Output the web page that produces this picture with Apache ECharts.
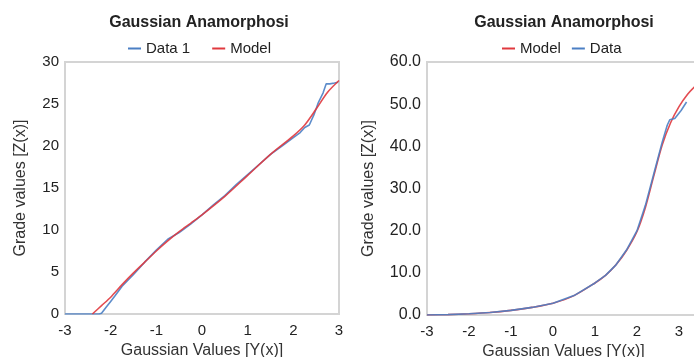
<!DOCTYPE html>
<html>
<head>
<meta charset="utf-8">
<script src="https://cdn.jsdelivr.net/npm/echarts@6/dist/echarts.min.js"></script>
<style>
  html, body { margin: 0; padding: 0; background: #fff; }
  #main { width: 694px; height: 357px; }
</style>
</head>
<body>
<div id="main"></div>
<script>
// 左图: 数据 (Data 1) 与模型 (Model)
var leftDataX = [-3, -2.5, -2.25, -2.2, -2.1, -2.0, -1.9, -1.75, -1.5, -1.25, -1.0, -0.75, -0.5, -0.25, 0, 0.25, 0.5, 0.75, 1.0, 1.25, 1.5, 1.75, 2.0, 2.15, 2.25, 2.35, 2.45, 2.55, 2.65, 2.72, 2.8, 2.9, 2.98];
var leftDataY = [0, 0, 0, 0.1, 0.8, 1.5, 2.2, 3.3, 4.7, 6.2, 7.6, 8.9, 9.7, 10.7, 11.8, 13.0, 14.1, 15.4, 16.6, 17.8, 19.0, 20.0, 21.0, 21.6, 22.2, 22.5, 23.7, 25.2, 26.3, 27.4, 27.4, 27.5, 27.6];
var leftModelX = [-2.4, -2.2, -2.0, -1.75, -1.5, -1.25, -1.0, -0.75, -0.5, -0.25, 0, 0.5, 1.0, 1.5, 2.0, 2.25, 2.5, 2.75, 3.0];
var leftModelY = [0, 1.0, 2.0, 3.5, 4.9, 6.2, 7.5, 8.7, 9.8, 10.8, 11.8, 14.0, 16.5, 19.0, 21.2, 22.5, 24.4, 26.4, 27.8];

// 右图
var rightDataX = [-3, -2.5, -2.0, -1.5, -1.0, -0.5, 0, 0.5, 1.0, 1.25, 1.5, 1.75, 2.0, 2.2, 2.4, 2.6, 2.72, 2.78, 2.9, 3.05, 3.18];
var rightDataY = [0, 0.1, 0.3, 0.6, 1.1, 1.8, 2.8, 4.6, 7.6, 9.4, 11.9, 15.4, 20.0, 26.0, 33.5, 41.0, 45.0, 46.3, 46.6, 48.5, 50.5];
var rightModelX = [-3, -2.5, -2.0, -1.5, -1.0, -0.5, 0, 0.5, 1.0, 1.25, 1.5, 1.75, 2.0, 2.2, 2.4, 2.6, 2.8, 3.0, 3.2, 3.4, 3.5];
var rightModelY = [0, 0.1, 0.3, 0.6, 1.1, 1.8, 2.8, 4.6, 7.6, 9.4, 11.9, 15.3, 19.8, 25.5, 33.0, 40.3, 45.6, 49.4, 52.3, 54.4, 55.2];

var xTicks = [-3, -2, -1, 0, 1, 2, 3];

function pairs(xs, ys) {
    return xs.map(function (x, i) { return [x, ys[i]]; });
}

var blue = '#4b7fc4';
var red = '#e0393e';
var fontFamily = '"Liberation Sans", Arial, sans-serif';

function xAxisOpt(gridIndex, max) {
    return {
        type: 'value',
        gridIndex: gridIndex,
        min: -3,
        max: max,
        interval: 1,
        name: 'Gaussian Values [Y(x)]',
        nameLocation: 'middle',
        nameGap: 25,
        nameTextStyle: { color: '#333', fontSize: 16, fontFamily: fontFamily },
        axisLine: { show: true, onZero: false, lineStyle: { color: '#d4d4d4', width: 2 } },
        axisTick: { show: false },
        splitLine: { show: false },
        axisLabel: {
            color: '#222', fontSize: 15, fontFamily: fontFamily, margin: 9,
            showMaxLabel: true,
            formatter: function (v) { return xTicks.indexOf(v) >= 0 ? String(v) : ''; }
        }
    };
}

function yAxisOpt(gridIndex, max, interval, digits, nameGap, fs) {
    return {
        type: 'value',
        gridIndex: gridIndex,
        min: 0,
        max: max,
        interval: interval,
        name: 'Grade values [Z(x)]',
        nameLocation: 'middle',
        nameGap: nameGap,
        nameTextStyle: { color: '#333', fontSize: 16, fontFamily: fontFamily },
        axisLine: { show: true, onZero: false, lineStyle: { color: '#d4d4d4', width: 2 } },
        axisTick: { show: false },
        splitLine: { show: false },
        axisLabel: {
            color: '#222', fontSize: fs, fontFamily: fontFamily, margin: 6,
            formatter: function (v) { return v.toFixed(digits); }
        }
    };
}

function lineSeries(name, xi, data, color, smooth) {
    return {
        name: name,
        type: 'line',
        xAxisIndex: xi,
        yAxisIndex: xi,
        data: data,
        showSymbol: false,
        smooth: smooth,
        lineStyle: { color: color, width: 1.6, opacity: 0.9 },
        itemStyle: { color: color }
    };
}

var myChart = echarts.init(document.getElementById('main'));
var option = {
    backgroundColor: '#fff',
    animation: false,
    title: [
        { text: 'Gaussian Anamorphosi', left: 194, top: 10, textAlign: 'center',
          textStyle: { fontSize: 16, fontWeight: 'bold', color: '#222', fontFamily: fontFamily } },
        { text: 'Gaussian Anamorphosi', left: 559, top: 10, textAlign: 'center',
          textStyle: { fontSize: 16, fontWeight: 'bold', color: '#222', fontFamily: fontFamily } }
    ],
    legend: [
        { data: ['Data 1', 'Model'], left: 123, top: 36, icon: 'rect', itemWidth: 13, itemHeight: 2,
          itemGap: 22, textStyle: { fontSize: 15, color: '#222', fontFamily: fontFamily } },
        { data: ['Model', 'Data'], left: 497, top: 36, icon: 'rect', itemWidth: 13, itemHeight: 2,
          itemGap: 11, textStyle: { fontSize: 15, color: '#222', fontFamily: fontFamily } }
    ],
    grid: [
        { left: 65, top: 62, width: 274, height: 252, outerBoundsMode: 'none',
          show: true, borderColor: '#d4d4d4', borderWidth: 2 },
        { left: 427, top: 62, width: 273, height: 253, outerBoundsMode: 'none',
          show: true, borderColor: '#d4d4d4', borderWidth: 2 }
    ],
    xAxis: [xAxisOpt(0, 3), xAxisOpt(1, 3.5)],
    yAxis: [yAxisOpt(0, 30, 5, 0, 36, 15), yAxisOpt(1, 60, 10, 1, 50, 16)],
    series: [
        lineSeries('Data 1', 0, pairs(leftDataX, leftDataY), blue, false),
        lineSeries('Model', 0, pairs(leftModelX, leftModelY), red, 0.3),
        lineSeries('Model', 1, pairs(rightModelX, rightModelY), red, 0.3),
        lineSeries('Data', 1, pairs(rightDataX, rightDataY), blue, false)
    ]
};
myChart.setOption(option);
</script>
</body>
</html>
